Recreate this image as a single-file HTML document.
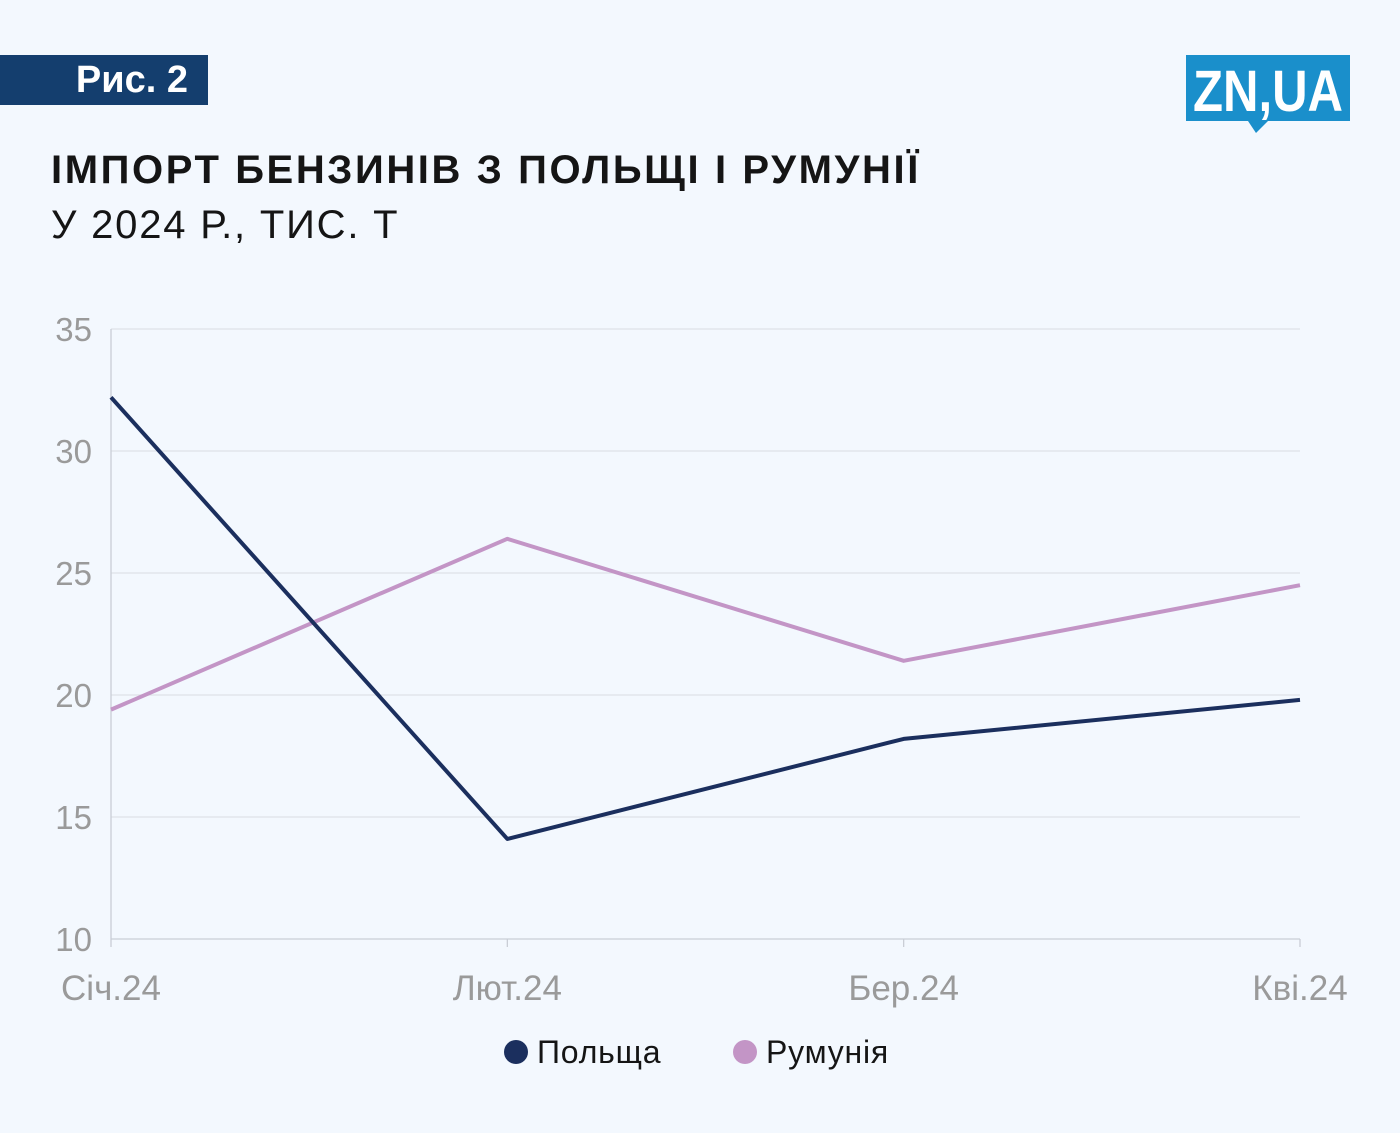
<!DOCTYPE html>
<html><head><meta charset="utf-8">
<style>
body{margin:0;width:1400px;height:1133px;background:#f3f8fe;font-family:"Liberation Sans",sans-serif;position:relative;overflow:hidden}
.badge{position:absolute;left:0;top:55px;width:208px;height:50px;background:#143e6e;color:#fff;font-weight:bold;font-size:38px;line-height:50px;text-align:right;box-sizing:border-box;padding-right:20px}
.title{position:absolute;left:51px;top:148px;font-size:40px;font-weight:bold;color:#151515;letter-spacing:2.6px;white-space:nowrap}
.sub{position:absolute;left:51px;top:203px;font-size:40px;color:#151515;letter-spacing:1.8px;white-space:nowrap}
</style></head><body>
<div class="badge">Рис. 2</div>
<svg style="position:absolute;left:1186px;top:55px" width="165" height="80">
<rect x="0" y="0" width="164" height="66" fill="#1a8fcb"/>
<polygon points="62,66 82,66 70,78" fill="#1a8fcb"/>
<text x="82" y="56" text-anchor="middle" font-family="Liberation Sans" font-weight="bold" font-size="58" fill="#fff" textLength="150" lengthAdjust="spacingAndGlyphs">ZN,UA</text>
</svg>
<div class="title">ІМПОРТ БЕНЗИНІВ З ПОЛЬЩІ І РУМУНІЇ</div>
<div class="sub">У 2024 Р., ТИС. Т</div>
<svg id="chart" style="position:absolute;left:0;top:0" width="1400" height="1133"></svg>
<script>
const categories=["Січ.24","Лют.24","Бер.24","Кві.24"];
const poland=[32.2,14.1,18.2,19.8];
const romania=[19.4,26.4,21.4,24.5];
const yTicks=[10,15,20,25,30,35];
const svg=document.getElementById('chart');
const NS="http://www.w3.org/2000/svg";
const x0=111,x1=1300,yTop=329,yBot=939,vmin=10,vmax=35;
const xs=i=>x0+i*(x1-x0)/(categories.length-1);
const ys=v=>yBot-(v-vmin)/(vmax-vmin)*(yBot-yTop);
function mk(t,a){const e=document.createElementNS(NS,t);for(const k in a)e.setAttribute(k,a[k]);svg.appendChild(e);return e;}
yTicks.forEach(v=>{
 const l=mk('line',{x1:x0,x2:x1,y1:ys(v),y2:ys(v),stroke:v===vmin?'#c9ced6':'#dde2e8','stroke-width':1.3});
 
 
 const t=mk('text',{x:92,y:ys(v)+12,'text-anchor':'end','font-size':33,fill:'#9a9a9a','font-family':'Liberation Sans'});
 t.textContent=v;
 
 
});
mk('line',{x1:x0,x2:x0,y1:yTop,y2:yBot,stroke:'#c9ced6','stroke-width':1.3});
categories.forEach((c,i)=>{
 mk('line',{x1:xs(i),x2:xs(i),y1:yBot,y2:yBot+8,stroke:'#c9ced6','stroke-width':1.3});
 const t=mk('text',{x:xs(i),y:1000,'text-anchor':'middle','font-size':35,fill:'#9a9a9a','font-family':'Liberation Sans'});
 t.textContent=c;
 
 
});
function line(data,color,name){
 const p=mk('polyline',{points:data.map((v,i)=>xs(i)+','+ys(v)).join(' '),fill:'none',stroke:color,'stroke-width':4,'stroke-linejoin':'round'});
 
 
}
line(romania,'#c395c6','romania-line');
line(poland,'#1b2f5e','poland-line');
const legend=[["Польща","#1b2f5e",516],["Румунія","#c395c6",745]];
legend.forEach(([n,c,x])=>{
 const g=mk('circle',{cx:x,cy:1052,r:12,fill:c});
 
 
 const t=mk('text',{x:x+21,y:1063,'font-size':32,fill:'#151515','font-family':'Liberation Sans','letter-spacing':0.8});
 t.textContent=n;
 
 
});
</script>
</body></html>
